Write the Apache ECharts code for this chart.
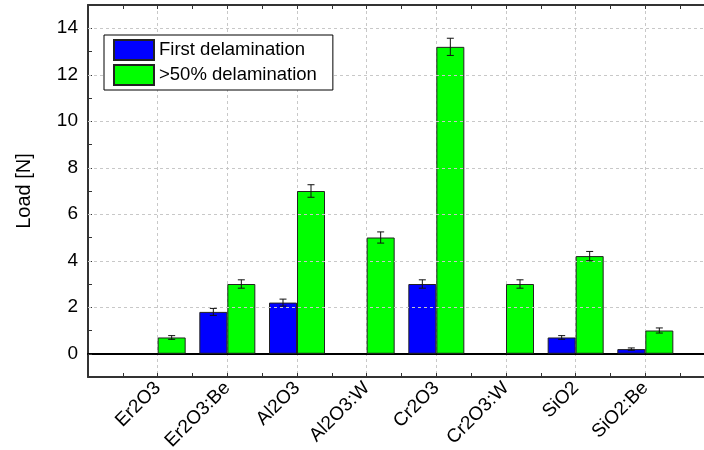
<!DOCTYPE html>
<html>
<head>
<meta charset="utf-8">
<script src="https://cdn.jsdelivr.net/npm/echarts@6/dist/echarts.min.js"></script>
<style>
html,body{margin:0;padding:0;background:#fff;}
#chart{width:704px;height:450px;}
</style>
</head>
<body>
<div id="chart"></div>
<script>
const categories = ['Er2O3', 'Er2O3:Be', 'Al2O3', 'Al2O3:W', 'Cr2O3', 'Cr2O3:W', 'SiO2', 'SiO2:Be'];
const firstDelam = [null, 1.8, 2.2, null, 3.0, null, 0.7, 0.2];
const firstDelamErr = [null, 0.15, 0.15, null, 0.18, null, 0.08, 0.05];
const halfDelam = [0.7, 3.0, 7.0, 5.0, 13.2, 3.0, 4.2, 1.0];
const halfDelamErr = [0.08, 0.18, 0.27, 0.24, 0.37, 0.18, 0.2, 0.11];
const yGridValues = [2, 4, 6, 8, 10, 12, 14];
const seriesNames = ['First delamination', '>50% delamination'];

const FONT = '"Liberation Sans", Arial, sans-serif';
const BAR_W = 28;
const AXIS_COLOR = '#333';

// padded categories (empty slot on each side)
const padCats = [''].concat(categories, ['']);
const pad = arr => [null].concat(arr, [null]);

function errData(vals, errs) {
  const out = [];
  vals.forEach((v, i) => {
    if (v !== null && errs[i] !== null) out.push([i + 1, v, errs[i]]);
  });
  return out;
}

function errRender(offset) {
  return function (params, api) {
    const x = api.value(0), v = api.value(1), e = api.value(2);
    const top = api.coord([x, v + e]);
    const bot = api.coord([x, v - e]);
    const cx = top[0] + offset;
    const cap = 3.5;
    const st = { stroke: '#111', lineWidth: 1 };
    return {
      type: 'group',
      children: [
        { type: 'line', shape: { x1: cx, y1: top[1], x2: cx, y2: bot[1] }, style: st },
        { type: 'line', shape: { x1: cx - cap, y1: top[1], x2: cx + cap, y2: top[1] }, style: st },
        { type: 'line', shape: { x1: cx - cap, y1: bot[1], x2: cx + cap, y2: bot[1] }, style: st }
      ]
    };
  };
}

const chart = echarts.init(document.getElementById('chart'), null, { renderer: 'canvas' });
chart.setOption({
  animation: false,
  backgroundColor: '#fff',
  textStyle: { fontFamily: FONT },
  grid: { left: 88, width: 627, top: 5, height: 372, containLabel: false, outerBoundsMode: 'none' },
  legend: {
    data: seriesNames,
    orient: 'vertical',
    left: 104,
    top: 35,
    itemWidth: 40,
    itemHeight: 20,
    itemGap: 3,
    padding: [4, 16, 4, 9],
    borderColor: '#000',
    borderWidth: 1,
    backgroundColor: '#fff',
    icon: 'rect',
    textStyle: { fontSize: 18.5, lineHeight: 20, color: '#000', fontFamily: FONT },
    z: 10
  },
  xAxis: [
    {
      type: 'value', position: 'bottom', min: -1, max: 8, interval: 1,
      axisLine: { show: true, onZero: false, lineStyle: { color: AXIS_COLOR, width: 2 } },
      axisTick: { show: true, inside: true, length: 4, lineStyle: { color: AXIS_COLOR } },
      minorTick: { show: true, splitNumber: 2, length: 4, lineStyle: { color: AXIS_COLOR } },
      splitLine: { show: true, lineStyle: { color: '#c8c8c8', type: [3, 3], width: 1 } },
      axisLabel: {
        show: true, rotate: 45, margin: 8, fontSize: 19, color: '#000', fontFamily: FONT,
        formatter: v => { const i = Math.round(v); return (i >= 0 && i < categories.length) ? categories[i] : ''; }
      }
    },
    {
      type: 'value', position: 'top', min: -1, max: 8, interval: 1,
      axisLine: { show: true, onZero: false, lineStyle: { color: AXIS_COLOR, width: 2 } },
      axisTick: { show: true, inside: true, length: 4, lineStyle: { color: AXIS_COLOR } },
      minorTick: { show: true, splitNumber: 2, length: 4, lineStyle: { color: AXIS_COLOR } },
      splitLine: { show: false },
      axisLabel: { show: false }
    },
    {
      type: 'category', position: 'bottom', data: padCats, boundaryGap: false,
      axisLine: { show: true, onZero: true, lineStyle: { color: '#000', width: 2 } },
      axisTick: { show: false },
      axisLabel: { show: false },
      splitLine: { show: false }
    }
  ],
  yAxis: [
    {
      type: 'value', min: -1, max: 15, interval: 1,
      name: 'Load [N]', nameLocation: 'middle', nameGap: 54, nameRotate: 90,
      nameTextStyle: { fontSize: 20, color: '#000', fontFamily: FONT },
      axisLine: { show: true, onZero: false, lineStyle: { color: AXIS_COLOR, width: 2 } },
      axisTick: { show: true, inside: true, length: 4, lineStyle: { color: AXIS_COLOR } },
      splitLine: { show: false },
      axisLabel: {
        show: true, margin: 10, fontSize: 19, color: '#000', fontFamily: FONT,
        formatter: v => (Math.round(v) % 2 === 0 ? String(Math.round(v)) : '')
      }
    }
  ],
  series: [
    {
      name: 'grid', type: 'line', xAxisIndex: 2, yAxisIndex: 0, data: [], z: 1, silent: true,
      markLine: {
        silent: true, symbol: 'none', label: { show: false },
        lineStyle: { color: '#c8c8c8', type: [3, 3], width: 1 },
        data: yGridValues.map(v => ({ yAxis: v }))
      }
    },
    {
      name: seriesNames[0], type: 'bar', xAxisIndex: 2, yAxisIndex: 0,
      data: pad(firstDelam), barWidth: BAR_W, barGap: '0%', z: 3,
      itemStyle: { color: '#0000ff', borderColor: '#222', borderWidth: 1 }
    },
    {
      name: seriesNames[1], type: 'bar', xAxisIndex: 2, yAxisIndex: 0,
      data: pad(halfDelam), barWidth: BAR_W, barGap: '0%', z: 3,
      itemStyle: { color: '#00ff00', borderColor: '#222', borderWidth: 1 }
    },
    {
      name: 'err1', type: 'custom', xAxisIndex: 2, yAxisIndex: 0, z: 5, silent: true,
      renderItem: errRender(-BAR_W / 2), data: errData(firstDelam, firstDelamErr)
    },
    {
      name: 'err2', type: 'custom', xAxisIndex: 2, yAxisIndex: 0, z: 5, silent: true,
      renderItem: errRender(BAR_W / 2), data: errData(halfDelam, halfDelamErr)
    }
  ]
});
</script>
</body>
</html>
